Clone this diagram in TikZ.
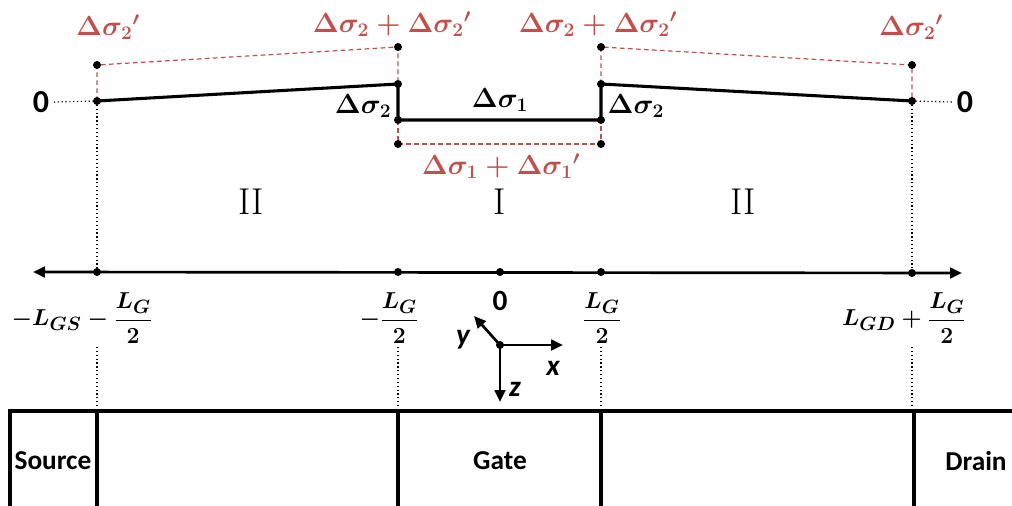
\documentclass[tikz,border=0pt]{standalone}
\usepackage{amsmath}
\usepackage{fontspec}
\newfontfamily\calib{Carlito}
\usetikzlibrary{arrows.meta}
\definecolor{offred}{RGB}{192,80,77}
\tikzset{
  prof/.style={line width=2.3pt, black},
  rdash/.style={offred, line width=0.9pt, dash pattern=on 3.5pt off 2.5pt},
  dotl/.style={black, line width=0.9pt, dotted},
  pt/.style={circle, fill=black, inner sep=0pt, minimum size=6pt},
  redlab/.style={text=offred, font=\fontsize{22}{25}\selectfont\boldmath},
  blklab/.style={text=black, font=\fontsize{22}{25}\selectfont\boldmath},
  roman/.style={font=\fontsize{28}{31}\selectfont},
  sanslab/.style={font=\calib\bfseries\fontsize{20.5}{24}\selectfont},
  zerolab/.style={font=\calib\bfseries\fontsize{24}{27}\selectfont},
  axlab/.style={font=\fontsize{19}{22}\selectfont\boldmath},
  xyz/.style={font=\calib\bfseries\itshape\fontsize{22}{26}\selectfont},
  boxl/.style={line width=2.3pt, black},
  arr/.style={line width=2pt, -{Triangle[length=9pt,width=8pt]}}
}
\begin{document}
\begin{tikzpicture}[x=0.75pt,y=-0.75pt]
\useasboundingbox (0,0) rectangle (1012,506);
% top profile points
\coordinate (s0) at (97,101);
\coordinate (s0d) at (97,65);
\coordinate (gl1) at (398,84);
\coordinate (gl1d) at (398,47);
\coordinate (gl0) at (398,120);
\coordinate (gl0d) at (398,144);
\coordinate (gr1) at (601,84);
\coordinate (gr1d) at (601,47);
\coordinate (gr0) at (601,120);
\coordinate (gr0d) at (601,144);
\coordinate (d0) at (912,101);
\coordinate (d0d) at (912,65);
% axis points
\coordinate (al) at (33,272);
\coordinate (ar) at (962,273);
\coordinate (a1) at (97,272);
\coordinate (a2) at (398,272);
\coordinate (a3) at (500,272);
\coordinate (a4) at (601,272);
\coordinate (a5) at (912,273);
% zero labels
\node[zerolab] (zL) at (41,102) {0};
\node[zerolab] (zR) at (965,102) {0};
% dotted guides
\draw[dotl] (zL.east) -- (s0);
\draw[dotl] (d0) -- (zR.west);
\draw[dotl] (s0) -- (a1);
\draw[dotl] (d0) -- (a5);
% red dashed
\draw[rdash] (s0) -- (s0d) -- (gl1d) -- (gl1);
\draw[rdash] (gl0) -- (gl0d) -- (gr0d) -- (gr0);
\draw[rdash] (gr1) -- (gr1d) -- (d0d) -- (d0);
% black profile
\draw[prof, line join=round] (s0) -- (gl1) -- (gl0) -- (gr0) -- (gr1) -- (d0);
% dots
\foreach \p in {s0,s0d,gl1,gl1d,gl0,gl0d,gr1,gr1d,gr0,gr0d,d0,d0d}
  \node[pt] at (\p) {};
% labels top
\node[redlab] (l1) at (108,27) {$\Delta\sigma_2{}'$};
\node[redlab] (l2) at (392,24) {$\Delta\sigma_2+\Delta\sigma_2{}'$};
\node[redlab] (l3) at (598,24) {$\Delta\sigma_2+\Delta\sigma_2{}'$};
\node[redlab] (l4) at (911,27) {$\Delta\sigma_2{}'$};
\node[redlab] (l5) at (501,166) {$\Delta\sigma_1+\Delta\sigma_1{}'$};
\node[blklab, anchor=east] (b1) at (396,106) {$\Delta\sigma_2$};
\node[blklab, anchor=west] (b2) at (603,106) {$\Delta\sigma_2$};
\node[blklab] (b3) at (500,100) {$\Delta\sigma_1$};
% region labels
\node[roman] (r1) at (251,202) {II};
\node[roman] (r2) at (500,202) {I};
\node[roman] (r3) at (743,202) {II};
% axis
\draw[line width=2pt, {Triangle[length=9pt,width=8pt]}-{Triangle[length=9pt,width=8pt]}] (al) -- (ar);
\foreach \p in {a1,a2,a3,a4,a5}
  \node[pt] at (\p) {};
% axis labels
\node[axlab] (t1) at (82,318) {$-L_{GS}-\dfrac{L_G}{2}$};
\node[axlab] (t2) at (389,318) {$-\dfrac{L_G}{2}$};
\node[zerolab, font=\calib\bfseries\fontsize{22}{25}\selectfont] (t3) at (500,301) {0};
\node[axlab] (t4) at (602,318) {$\dfrac{L_G}{2}$};
\node[axlab] (t5) at (904,318) {$L_{GD}+\dfrac{L_G}{2}$};
% coordinate system
\coordinate (o) at (500,345);
\coordinate (ox) at (563,345);
\coordinate (oz) at (500,402);
\coordinate (oy) at (474,316);
\draw[arr] (o) -- (ox);
\draw[arr] (o) -- (oz);
\draw[arr] (o) -- (oy);
\node[pt] at (o) {};
\node[xyz] (xl) at (553,368) {x};
\node[xyz] (zl) at (515,389) {z};
\node[xyz] (yl) at (463,340) {y};
% lower dotted guides
\coordinate (c1) at (97,411);
\coordinate (c2) at (398,411);
\coordinate (c3) at (601,411);
\coordinate (c4) at (912,411);
\draw[dotl] (97,347) -- (c1);
\draw[dotl] (398,347) -- (c2);
\draw[dotl] (601,347) -- (c3);
\draw[dotl] (912,347) -- (c4);
% device box
\draw[boxl] (1020,411) -- (10,411) -- (10,515);
\draw[boxl] (c1) -- (97,515);
\draw[boxl] (c2) -- (398,515);
\draw[boxl] (c3) -- (601,515);
\draw[boxl] (914,411) -- (914,515);
\node[sanslab] (src) at (53,461) {Source};
\node[sanslab] (gate) at (500,461) {Gate};
\node[sanslab] (drn) at (976,461) {Drain};
\end{tikzpicture}
\end{document}
